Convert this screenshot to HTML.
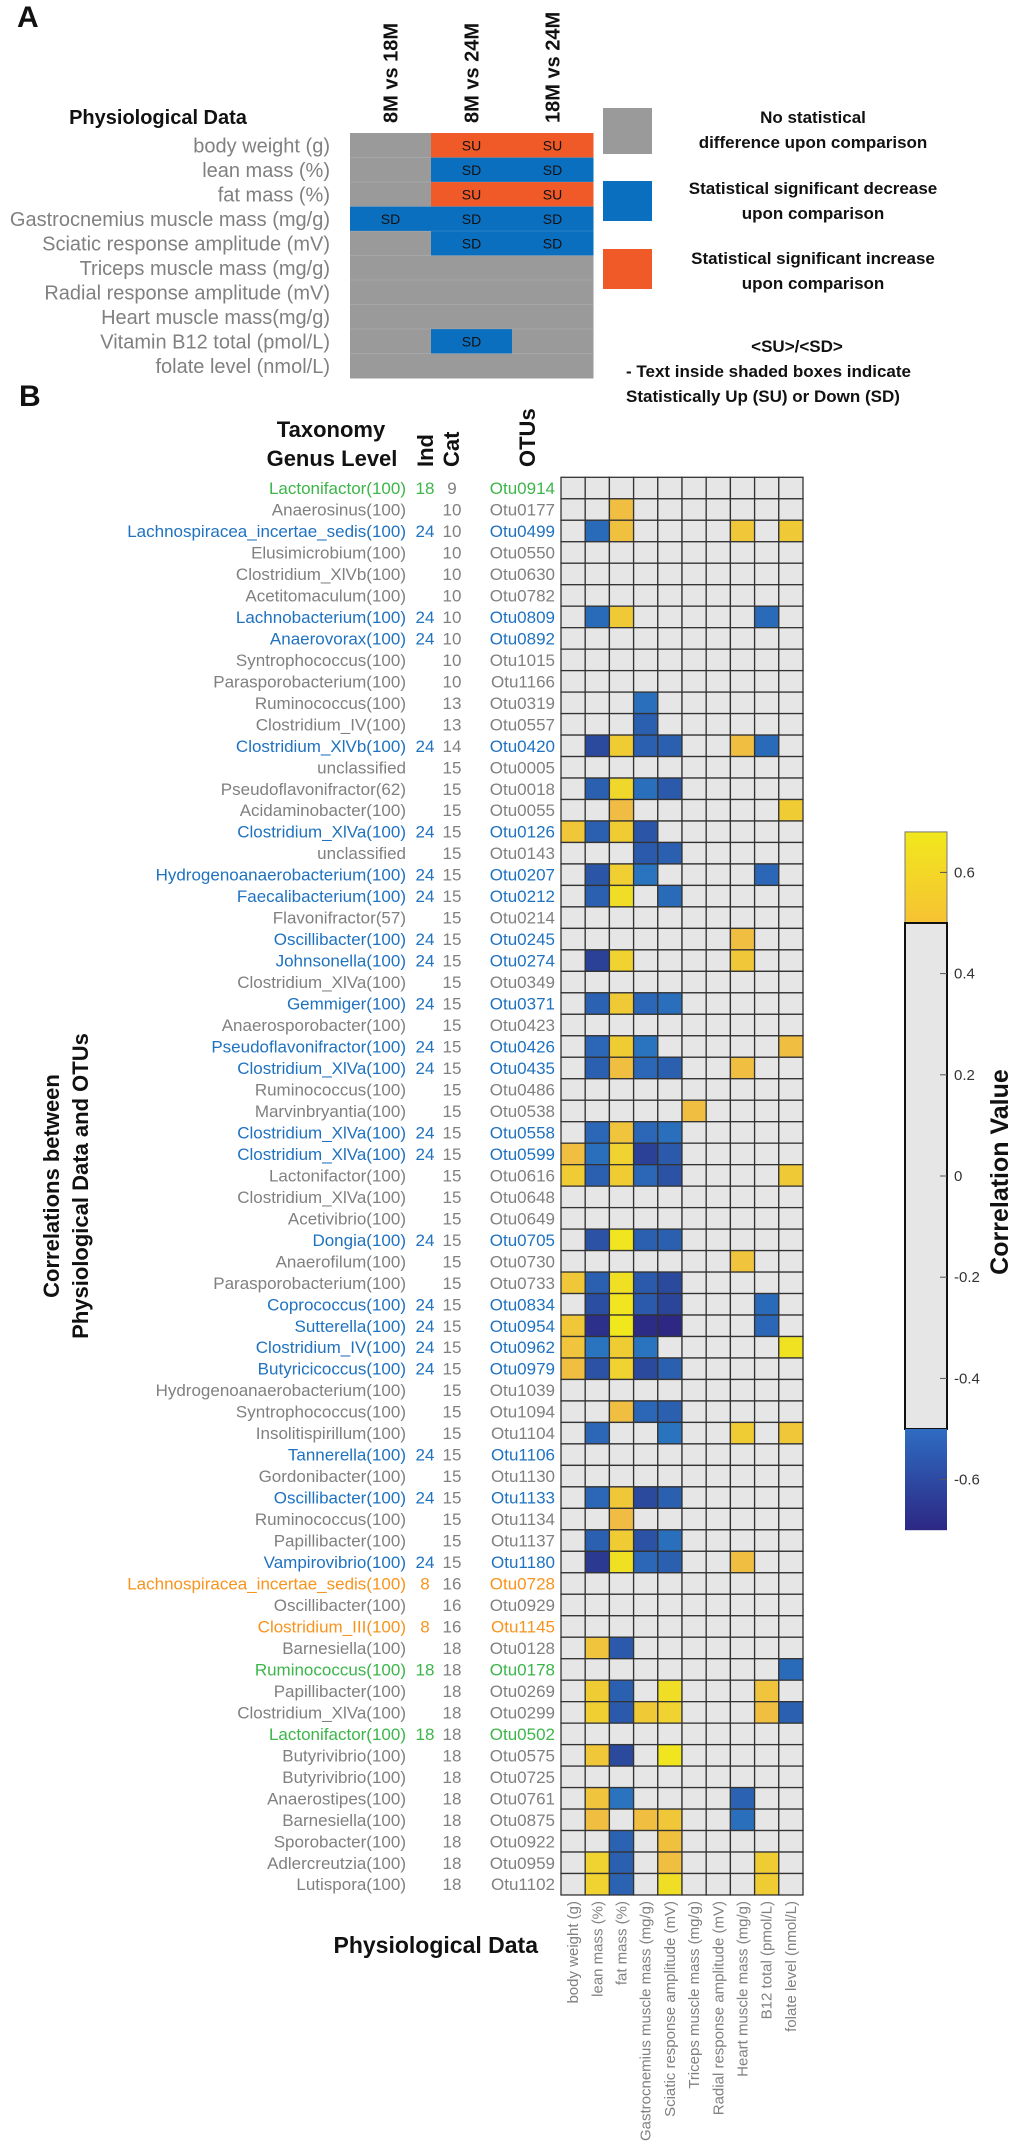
<!DOCTYPE html>
<html><head><meta charset="utf-8">
<style>
html,body{margin:0;padding:0;background:#fff;}
svg{display:block;font-family:"Liberation Sans",Arial,sans-serif;}
.b{font-weight:bold;fill:#111;}
.g{fill:#808080;}
</style></head>
<body>
<svg id="fig" width="1020" height="2144" viewBox="0 0 1020 2144" xmlns="http://www.w3.org/2000/svg">
  <g id="panelA"></g>
  <g id="panelB"></g>
</svg>
<script>
// ---------- Panel A data ----------
const aRows = ["body weight (g)","lean mass (%)","fat mass (%)","Gastrocnemius muscle mass (mg/g)","Sciatic response amplitude (mV)","Triceps muscle mass (mg/g)","Radial response amplitude (mV)","Heart muscle mass(mg/g)","Vitamin B12 total (pmol/L)","folate level (nmol/L)"];
const aCols = ["8M vs 18M","8M vs 24M","18M vs 24M"];
const aStatus = [
  ["","SU","SU"],["","SD","SD"],["","SU","SU"],["SD","SD","SD"],["","SD","SD"],
  ["","",""],["","",""],["","",""],["","SD",""],["","",""]
];
// ---------- Panel B data ----------
const traits = ["body weight (g)","lean mass (%)","fat mass (%)","Gastrocnemius muscle mass (mg/g)","Sciatic response amplitude (mV)","Triceps muscle mass (mg/g)","Radial response amplitude (mV)","Heart muscle mass (mg/g)","B12 total (pmol/L)","folate level (nmol/L)"];
const taxa = ["Lactonifactor(100)","Anaerosinus(100)","Lachnospiracea_incertae_sedis(100)","Elusimicrobium(100)","Clostridium_XlVb(100)","Acetitomaculum(100)","Lachnobacterium(100)","Anaerovorax(100)","Syntrophococcus(100)","Parasporobacterium(100)","Ruminococcus(100)","Clostridium_IV(100)","Clostridium_XlVb(100)","unclassified","Pseudoflavonifractor(62)","Acidaminobacter(100)","Clostridium_XlVa(100)","unclassified","Hydrogenoanaerobacterium(100)","Faecalibacterium(100)","Flavonifractor(57)","Oscillibacter(100)","Johnsonella(100)","Clostridium_XlVa(100)","Gemmiger(100)","Anaerosporobacter(100)","Pseudoflavonifractor(100)","Clostridium_XlVa(100)","Ruminococcus(100)","Marvinbryantia(100)","Clostridium_XlVa(100)","Clostridium_XlVa(100)","Lactonifactor(100)","Clostridium_XlVa(100)","Acetivibrio(100)","Dongia(100)","Anaerofilum(100)","Parasporobacterium(100)","Coprococcus(100)","Sutterella(100)","Clostridium_IV(100)","Butyricicoccus(100)","Hydrogenoanaerobacterium(100)","Syntrophococcus(100)","Insolitispirillum(100)","Tannerella(100)","Gordonibacter(100)","Oscillibacter(100)","Ruminococcus(100)","Papillibacter(100)","Vampirovibrio(100)","Lachnospiracea_incertae_sedis(100)","Oscillibacter(100)","Clostridium_III(100)","Barnesiella(100)","Ruminococcus(100)","Papillibacter(100)","Clostridium_XlVa(100)","Lactonifactor(100)","Butyrivibrio(100)","Butyrivibrio(100)","Anaerostipes(100)","Barnesiella(100)","Sporobacter(100)","Adlercreutzia(100)","Lutispora(100)"];
const otus = ["Otu0914","Otu0177","Otu0499","Otu0550","Otu0630","Otu0782","Otu0809","Otu0892","Otu1015","Otu1166","Otu0319","Otu0557","Otu0420","Otu0005","Otu0018","Otu0055","Otu0126","Otu0143","Otu0207","Otu0212","Otu0214","Otu0245","Otu0274","Otu0349","Otu0371","Otu0423","Otu0426","Otu0435","Otu0486","Otu0538","Otu0558","Otu0599","Otu0616","Otu0648","Otu0649","Otu0705","Otu0730","Otu0733","Otu0834","Otu0954","Otu0962","Otu0979","Otu1039","Otu1094","Otu1104","Otu1106","Otu1130","Otu1133","Otu1134","Otu1137","Otu1180","Otu0728","Otu0929","Otu1145","Otu0128","Otu0178","Otu0269","Otu0299","Otu0502","Otu0575","Otu0725","Otu0761","Otu0875","Otu0922","Otu0959","Otu1102"];
const ind = ["18","","24","","","","24","24","","","","","24","","","","24","","24","24","","24","24","","24","","24","24","","","24","24","","","","24","","","24","24","24","24","","","","24","","24","","","24","8","","8","","18","","","18","","","","","","",""];
const cat = [9,10,10,10,10,10,10,10,10,10,13,13,14,15,15,15,15,15,15,15,15,15,15,15,15,15,15,15,15,15,15,15,15,15,15,15,15,15,15,15,15,15,15,15,15,15,15,15,15,15,15,16,16,16,18,18,18,18,18,18,18,18,18,18,18,18];
const corr = [
[0,0,0,0,0,0,0,0,0,0],
[0,0,0.53,0,0,0,0,0,0,0],
[0,-0.54,0.54,0,0,0,0,0.56,0,0.57],
[0,0,0,0,0,0,0,0,0,0],
[0,0,0,0,0,0,0,0,0,0],
[0,0,0,0,0,0,0,0,0,0],
[0,-0.54,0.57,0,0,0,0,0,-0.54,0],
[0,0,0,0,0,0,0,0,0,0],
[0,0,0,0,0,0,0,0,0,0],
[0,0,0,0,0,0,0,0,0,0],
[0,0,0,-0.53,0,0,0,0,0,0],
[0,0,0,-0.57,0,0,0,0,0,0],
[0,-0.62,0.58,-0.57,-0.57,0,0,0.53,-0.54,0],
[0,0,0,0,0,0,0,0,0,0],
[0,-0.57,0.62,-0.53,-0.58,0,0,0,0,0],
[0,0,0.52,0,0,0,0,0,0,0.58],
[0.56,-0.57,0.58,-0.59,0,0,0,0,0,0],
[0,0,0,-0.58,-0.57,0,0,0,0,0],
[0,-0.59,0.59,-0.52,0,0,0,0,-0.55,0],
[0,-0.57,0.64,0,-0.54,0,0,0,0,0],
[0,0,0,0,0,0,0,0,0,0],
[0,0,0,0,0,0,0,0.53,0,0],
[0,-0.64,0.6,0,0,0,0,0.56,0,0],
[0,0,0,0,0,0,0,0,0,0],
[0,-0.56,0.57,-0.55,-0.53,0,0,0,0,0],
[0,0,0,0,0,0,0,0,0,0],
[0,-0.55,0.58,-0.52,0,0,0,0,0,0.53],
[0,-0.57,0.53,-0.55,-0.57,0,0,0.53,0,0],
[0,0,0,0,0,0,0,0,0,0],
[0,0,0,0,0,0.53,0,0,0,0],
[0,-0.55,0.55,-0.55,-0.53,0,0,0,0,0],
[0.53,-0.53,0.6,-0.64,-0.58,0,0,0,0,0],
[0.58,-0.57,0.58,-0.55,-0.6,0,0,0,0,0.57],
[0,0,0,0,0,0,0,0,0,0],
[0,0,0,0,0,0,0,0,0,0],
[0,-0.6,0.67,-0.57,-0.57,0,0,0,0,0],
[0,0,0,0,0,0,0,0.55,0,0],
[0.56,-0.57,0.65,-0.58,-0.62,0,0,0,0,0],
[0,-0.61,0.67,-0.58,-0.63,0,0,0,-0.54,0],
[0.56,-0.68,0.68,-0.69,-0.7,0,0,0,-0.55,0],
[0.55,-0.52,0.58,-0.52,0,0,0,0,0,0.66],
[0.53,-0.6,0.6,-0.62,-0.57,0,0,0,0,0],
[0,0,0,0,0,0,0,0,0,0],
[0,0,0.53,-0.55,-0.57,0,0,0,0,0],
[0,-0.55,0,0,-0.52,0,0,0.58,0,0.56],
[0,0,0,0,0,0,0,0,0,0],
[0,0,0,0,0,0,0,0,0,0],
[0,-0.55,0.56,-0.62,-0.57,0,0,0,0,0],
[0,0,0.52,0,0,0,0,0,0,0],
[0,-0.57,0.58,-0.6,-0.53,0,0,0,0,0],
[0,-0.66,0.65,-0.55,-0.57,0,0,0.53,0,0],
[0,0,0,0,0,0,0,0,0,0],
[0,0,0,0,0,0,0,0,0,0],
[0,0,0,0,0,0,0,0,0,0],
[0,0.55,-0.58,0,0,0,0,0,0,0],
[0,0,0,0,0,0,0,0,0,-0.54],
[0,0.58,-0.57,0,0.64,0,0,0,0.55,0],
[0,0.59,-0.58,0.57,0.6,0,0,0,0.53,-0.57],
[0,0,0,0,0,0,0,0,0,0],
[0,0.56,-0.62,0,0.67,0,0,0,0,0],
[0,0,0,0,0,0,0,0,0,0],
[0,0.55,-0.52,0,0,0,0,-0.56,0,0],
[0,0.53,0,0.53,0.56,0,0,-0.53,0,0],
[0,0,-0.56,0,0.54,0,0,0,0,0],
[0,0.6,-0.57,0,0.53,0,0,0,0.58,0],
[0,0.6,-0.56,0,0.64,0,0,0,0.58,0]
];
const cbTicks = [0.6,0.4,0.2,0,-0.2,-0.4,-0.6];

const NS="http://www.w3.org/2000/svg";
function mk(parent, tag, attrs, text){
  const e=document.createElementNS(NS,tag);
  for(const k in attrs) e.setAttribute(k,attrs[k]);
  if(text!==undefined) e.textContent=text;
  parent.appendChild(e); return e;
}
function lerp(a,b,t){return a.map((v,i)=>Math.round(v+(b[i]-v)*t));}
function rgb(c){return "rgb("+c.join(",")+")";}
function colorFor(v){
  if(Math.abs(v)<0.5) return "#e6e6e6";
  if(v>0){const t=Math.min(1,(v-0.5)/0.18);return rgb(lerp([240,182,72],[240,232,28],t));}
  const t=Math.min(1,(-v-0.5)/0.2);return rgb(lerp([42,124,198],[44,40,132],t));
}

// ---------- Panel A ----------
const A=document.getElementById("panelA");
let t;
t=mk(A,"text",{x:17,y:27,class:"b","font-size":30});t.textContent="A";

t=mk(A,"text",{x:158,y:124,class:"b","font-size":20,"text-anchor":"middle"},"Physiological Data");

const aX0=350, aW=81, aY0=133, aH=24.5;
aCols.forEach((c,j)=>{
  const cx=aX0+aW*(j+0.5)+7;
  const e=mk(A,"text",{x:0,y:0,class:"b","font-size":20,transform:`translate(${cx},123) rotate(-90)`},c);
  
});
aRows.forEach((r,i)=>{
  const e=mk(A,"text",{x:330,y:aY0+aH*i+aH/2+7,class:"g","font-size":20,"text-anchor":"end"},r);
  
  aCols.forEach((c,j)=>{
    const s=aStatus[i][j];
    const fill=s==="SU"?"#f05a28":(s==="SD"?"#0b6fbf":"#9a9a9a");
    const rc=mk(A,"rect",{x:aX0+aW*j,y:aY0+aH*i,width:aW+0.5,height:aH+0.5,fill:fill});
    
    if(s){const tx=mk(A,"text",{x:aX0+aW*(j+0.5),y:aY0+aH*i+aH/2+5,"font-size":14,"text-anchor":"middle",fill:"#111"},s);
      }
  });
  if(i>0){const ln=mk(A,"line",{x1:aX0,x2:aX0+aW*3,y1:aY0+aH*i,y2:aY0+aH*i,stroke:"rgba(255,255,255,0.12)","stroke-width":1});}
});
// legend
const legend=[["#9a9a9a",108,154,["No statistical","difference upon comparison"],117],
 ["#0b6fbf",181,221,["Statistical significant decrease","upon comparison"],188],
 ["#f05a28",249,289,["Statistical significant increase","upon comparison"],258]];
legend.forEach(l=>{
  const r=mk(A,"rect",{x:603,y:l[1],width:49,height:l[2]-l[1],fill:l[0]});
  
  l[3].forEach((s,k)=>{const e=mk(A,"text",{x:813,y:l[4]+6+k*25,class:"b","font-size":17,"text-anchor":"middle"},s);
    });
});
[["<SU>/<SD>",797,352,"middle"],["- Text inside shaded boxes indicate",626,377,"start"],["Statistically Up (SU) or Down (SD)",626,402,"start"]].forEach(n=>{
  const e=mk(A,"text",{x:n[1],y:n[2],class:"b","font-size":17,"text-anchor":n[3]},n[0]);
  
});

// ---------- Panel B ----------
const B=document.getElementById("panelB");
t=mk(B,"text",{x:19,y:406,class:"b","font-size":30},"B");

t=mk(B,"text",{x:331,y:437,class:"b","font-size":22,"text-anchor":"middle"},"Taxonomy");

t=mk(B,"text",{x:332,y:466,class:"b","font-size":22,"text-anchor":"middle"},"Genus Level");

[["Ind",433],["Cat",459],["OTUs",535]].forEach(h=>{
  const e=mk(B,"text",{x:0,y:0,class:"b","font-size":22,transform:`translate(${h[1]},467) rotate(-90)`},h[0]);
  
});
const gx0=561, cw=24.2, gy0=477.3, rh=21.48;
function xs(j){return gx0+cw*j;}
function ys(i){return gy0+rh*i;}
function labelColor(s){return s==="24"?"#1f72c0":s==="18"?"#3db54a":s==="8"?"#f7941d":"#808080";}
otus.forEach((o,i)=>{
  const c=labelColor(ind[i]); const by=ys(i)+rh/2+6;
  let e=mk(B,"text",{x:406,y:by,"font-size":17,fill:c,"text-anchor":"end"},taxa[i]);
  
  if(ind[i]){e=mk(B,"text",{x:425,y:by,"font-size":17,fill:c,"text-anchor":"middle"},ind[i]);
    }
  e=mk(B,"text",{x:452,y:by,"font-size":17,fill:"#808080","text-anchor":"middle"},String(cat[i]));
  
  e=mk(B,"text",{x:555,y:by,"font-size":17,fill:c,"text-anchor":"end"},o);
  
  corr[i].forEach((v,j)=>{
    const r=mk(B,"rect",{x:xs(j),y:ys(i),width:cw,height:rh,fill:colorFor(v),stroke:"#333","stroke-width":1.3});
    
    
  });
});
traits.forEach((tr,j)=>{
  const cx=xs(j)+cw/2+5;
  const e=mk(B,"text",{x:0,y:0,"font-size":15,fill:"#808080","text-anchor":"end",transform:`translate(${cx},${ys(otus.length)+6}) rotate(-90)`},tr);
  
});
t=mk(B,"text",{x:538,y:1953,class:"b","font-size":23,"text-anchor":"end"},"Physiological Data");

t=mk(B,"text",{x:0,y:0,class:"b","font-size":22,"text-anchor":"middle",transform:"translate(59,1186) rotate(-90)"},"Correlations between");

t=mk(B,"text",{x:0,y:0,class:"b","font-size":22,"text-anchor":"middle",transform:"translate(88,1186) rotate(-90)"},"Physiological Data and OTUs");


// colorbar
const cbX=905, cbW=42;
function cy(v){return 1176-506*v;}
const defs=mk(B,"defs",{});
const gY=mk(defs,"linearGradient",{id:"gy",x1:0,y1:0,x2:0,y2:1});
mk(gY,"stop",{offset:0,"stop-color":"#f1e81c"});mk(gY,"stop",{offset:1,"stop-color":"#f6c233"});
const gB=mk(defs,"linearGradient",{id:"gb",x1:0,y1:0,x2:0,y2:1});
mk(gB,"stop",{offset:0,"stop-color":"#2f6cc2"});mk(gB,"stop",{offset:1,"stop-color":"#2c2884"});
let r=mk(B,"rect",{x:cbX,y:cy(0.68),width:cbW,height:cy(0.5)-cy(0.68),fill:"url(#gy)",stroke:"#777","stroke-width":1});

r=mk(B,"rect",{x:cbX,y:cy(0.5),width:cbW,height:cy(-0.5)-cy(0.5),fill:"#e6e6e6",stroke:"#111","stroke-width":2});

r=mk(B,"rect",{x:cbX,y:cy(-0.5),width:cbW,height:cy(-0.7)-cy(-0.5),fill:"url(#gb)"});

cbTicks.forEach(v=>{
  mk(B,"line",{x1:cbX+cbW-7,x2:cbX+cbW,y1:cy(v),y2:cy(v),stroke:"#555","stroke-width":1});
  const e=mk(B,"text",{x:954,y:cy(v)+5,"font-size":15,fill:"#333"},String(v));
  
});
t=mk(B,"text",{x:0,y:0,class:"b","font-size":25,"text-anchor":"middle",transform:"translate(1008,1172) rotate(-90)"},"Correlation Value");

</script>
</body></html>
